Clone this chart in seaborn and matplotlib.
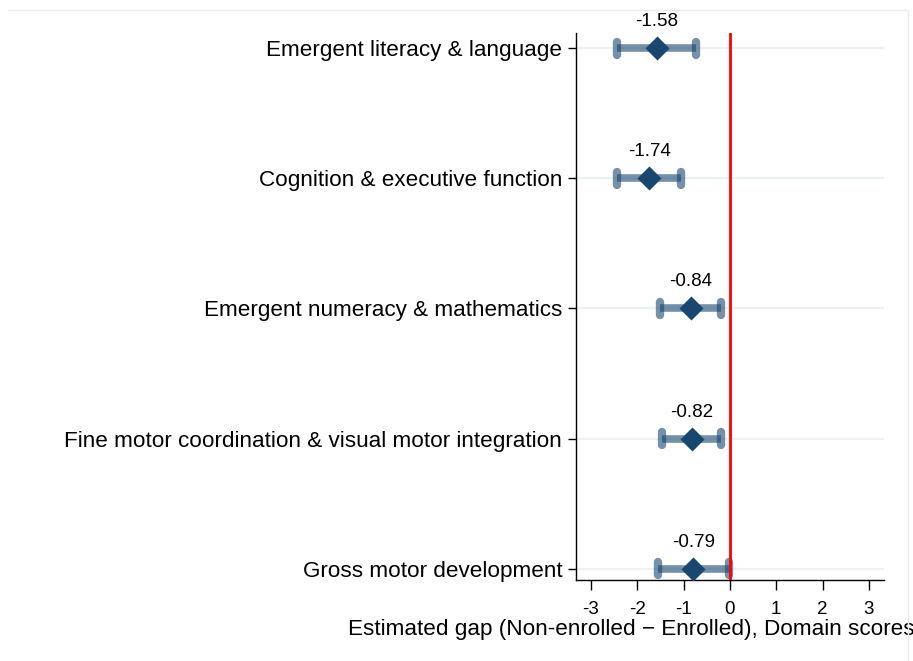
import numpy as np
import pandas as pd
import seaborn as sns
import matplotlib.pyplot as plt
from matplotlib.lines import Line2D

domains = ["Emergent literacy & language",
           "Cognition & executive function",
           "Emergent numeracy & mathematics",
           "Fine motor coordination & visual motor integration",
           "Gross motor development"]
estimate = [-1.58, -1.74, -0.84, -0.82, -0.79]
ci_low = [-2.44, -2.44, -1.51, -1.47, -1.55]
ci_high = [-0.73, -1.06, -0.19, -0.19, -0.02]
xticks = [-3, -2, -1, 0, 1, 2, 3]

df = pd.DataFrame({"domain": domains, "est": estimate,
                   "lo": ci_low, "hi": ci_high})
df["pos"] = np.arange(1, len(df) + 1)

sns.set_style("white")
plt.rcParams['font.family'] = ['Liberation Sans', 'DejaVu Sans']
plt.rcParams['text.color'] = 'black'
plt.rcParams['xtick.color'] = 'black'
plt.rcParams['ytick.color'] = 'black'
plt.rcParams['axes.labelcolor'] = 'black'

navy = "#1a476f"
fig = plt.figure(figsize=(9.13, 6.61), dpi=100)
ax = fig.add_axes([0.631, 0.1225, 0.337, 0.8275])

# light grid lines at each row
for p in df["pos"]:
    ax.axhline(p, color="#eaf2f3", lw=1.6, zorder=0)

# confidence intervals
ax.hlines(df["pos"], df["lo"], df["hi"], color=navy, alpha=0.6, lw=5.5, zorder=2)
for col in ["lo", "hi"]:
    ax.vlines(df[col], df["pos"] - 0.05, df["pos"] + 0.05, color=navy,
              alpha=0.6, lw=6, capstyle="round", zorder=2)

ax.axvline(0, color="red", lw=2, zorder=3)

sns.scatterplot(data=df, x="est", y="pos", marker="D", s=150, color=navy,
                edgecolor=navy, linewidth=0, zorder=4, ax=ax)

for _, r in df.iterrows():
    ax.text(r["est"], r["pos"] - 0.205, f"{r['est']:.2f}", ha="center",
            va="center", fontsize=13.5)

ax.set_xlim(-3.32, 3.32)
ax.set_ylim(5.085, 0.885)
ax.set_xticks(xticks)
ax.set_xticklabels([str(t) for t in xticks], fontsize=13.5)
ax.set_yticks(df["pos"])
ax.set_yticklabels(df["domain"], fontsize=16.2)
ax.tick_params(axis="x", direction="out", length=7.2, width=1, pad=8, bottom=True)
ax.tick_params(axis="y", direction="out", length=6, width=1, pad=4, left=True)
for s in ["top", "right"]:
    ax.spines[s].set_visible(False)
for s in ["left", "bottom"]:
    ax.spines[s].set_color("black")
    ax.spines[s].set_linewidth(1)

ax.set_xlabel("Estimated gap (Non-enrolled \u2212 Enrolled), Domain scores",
              fontsize=16.2, labelpad=0.5, x=0.18)
ax.set_ylabel("")

# faint outer frame (top and right)
fig.add_artist(Line2D([0.009, 0.994], [0.985, 0.985], color="#e8eef0", lw=1))
fig.add_artist(Line2D([0.994, 0.994], [0.0, 0.985], color="#e8eef0", lw=1))

fig.savefig("out.png", dpi=100)
